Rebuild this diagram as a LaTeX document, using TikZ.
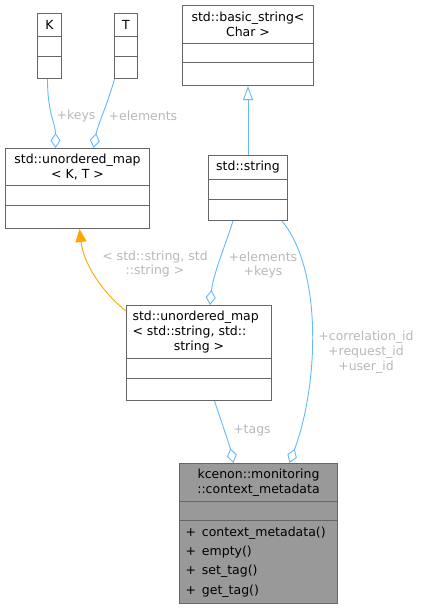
\documentclass[tikz,border=0pt]{standalone}
\usepackage{fontspec}
\setmainfont{DejaVu Sans}
\usetikzlibrary{shapes.multipart,arrows.meta}
\definecolor{boxline}{HTML}{666666}
\definecolor{boxfill}{HTML}{999999}
\definecolor{usage}{HTML}{63B8FF}
\definecolor{tmpl}{HTML}{FFA500}
\definecolor{lblgray}{HTML}{B8B8B8}
% one compartment of a class box: width, height, text
\newcommand\cpart[3]{\parbox[c][#2pt][c]{#1pt}{\centering #3}}
\begin{document}
\begin{tikzpicture}[x=1pt,y=-1pt,
    cls/.style={rectangle split, rectangle split parts=3, draw=boxline,
      line width=1pt, fill=white, inner sep=0pt, anchor=north west,
      font=\fontsize{12.5}{14.8}\selectfont},
    lbl/.style={text=lblgray, align=center, inner sep=0pt,
      font=\fontsize{12.5}{14.8}\selectfont},
    has/.style={draw=usage, line width=0.9pt,
      -{Diamond[open,length=15pt,width=10pt]}},
    isa/.style={draw=usage, line width=0.9pt,
      -{Triangle[open,length=14pt,width=10pt]}},
    tpl/.style={draw=tmpl, line width=0.9pt,
      -{Triangle[length=13pt,width=11pt]}}]
  \useasboundingbox (0,0) rectangle (423,608);
  % classes
  \node[cls] (K) at (37,13)
    {\cpart{24}{22}{K}\nodepart{two}\cpart{24}{19}{}\nodepart{three}\cpart{24}{21}{}};
  \node[cls] (T) at (114,13)
    {\cpart{23}{22}{T}\nodepart{two}\cpart{23}{19}{}\nodepart{three}\cpart{23}{21}{}};
  \node[cls] (mapKT) at (5,148)
    {\cpart{144}{36}{std::unordered\_map\\< K, T >}\nodepart{two}\cpart{144}{19}{}\nodepart{three}\cpart{144}{22}{}};
  \node[cls] (bstr) at (182,5)
    {\cpart{131}{37}{std::basic\_string<\\Char >}\nodepart{two}\cpart{131}{18}{}\nodepart{three}\cpart{131}{22}{}};
  \node[cls] (str) at (208,155)
    {\cpart{79}{23}{std::string}\nodepart{two}\cpart{79}{19}{}\nodepart{three}\cpart{79}{20}{}};
  \node[cls] (mapSS) at (126,305)
    {\parbox[c][52pt][c]{145pt}{{\raggedright\hspace*{6pt}std::unordered\_map\\
      \hspace*{6pt}< std::string, std::\par}\centering string >}%
     \nodepart{two}\cpart{145}{19}{}\nodepart{three}\cpart{145}{21}{}};
  \node[cls, fill=boxfill] (ctx) at (179,463)
    {\cpart{158}{37}{kcenon::monitoring\\::context\_metadata}\nodepart{two}\cpart{158}{18}{}%
     \nodepart{three}\parbox[c][82pt][c]{158pt}{\fontsize{12.5}{19.3}\selectfont
      \hspace*{6pt}+\hspace{6pt}context\_metadata()\\
      \hspace*{6pt}+\hspace{6pt}empty()\\
      \hspace*{6pt}+\hspace{6pt}set\_tag()\\
      \hspace*{6pt}+\hspace{6pt}get\_tag()}};
  % connectors
  \draw[has] ([xshift=-2pt]K.south) .. controls +(0,35) and +(0,-25) .. ([xshift=-22pt]mapKT.north);
  \draw[has] ([xshift=0.5pt]T.south west) .. controls +(-6,22) and +(4,-22) .. ([xshift=16pt]mapKT.north);
  \draw[isa] (str.north) -- (bstr.south);
  \draw[tpl] ([yshift=-6pt]mapSS.north west) .. controls +(-25,-20) and +(4,34) .. ([xshift=2pt]mapKT.south);
  \draw[has] ([xshift=-15pt]str.south) .. controls +(-8,25) and +(3,-30) .. ([xshift=11pt]mapSS.north);
  \draw[has] ([xshift=34pt]str.south) .. controls +(41,50) and +(29,-78) .. ([xshift=31pt]ctx.north);
  \draw[has] ([xshift=15.5pt]mapSS.south) .. controls +(6,18) and +(-4,-18) .. ([xshift=-25pt]ctx.north);
  % labels
  \node[lbl] (lkeys) at (76,116) {+keys};
  \node[lbl] (lelem) at (143,116) {+elements};
  \node[lbl] (ltmpl) at (155,264) {< std::string, std\\::string >};
  \node[lbl] (lstr) at (263,265) {+elements\\+keys};
  \node[lbl] (lids) at (366,352) {+correlation\_id\\+request\_id\\+user\_id};
  \node[lbl] (ltags) at (252,430) {+tags};
\end{tikzpicture}
\end{document}
